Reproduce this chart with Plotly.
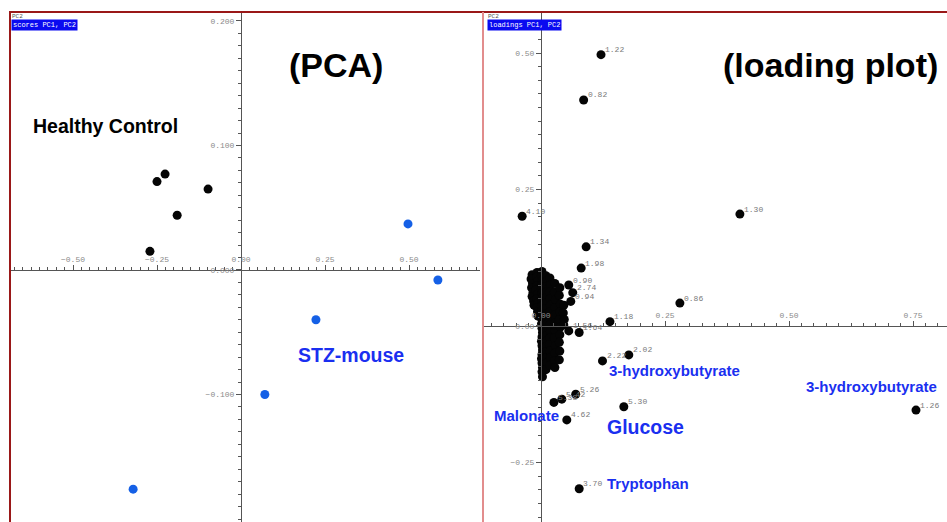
import plotly.graph_objects as go

W, H = 947, 522

# ---------------- scores (PCA) ----------------
healthy_pc1 = [-0.250, -0.226, -0.098, -0.190, -0.271]
healthy_pc2 = [0.071, 0.077, 0.065, 0.044, 0.015]
stz_pc1 = [0.497, 0.586, 0.223, 0.071, -0.321]
stz_pc2 = [0.037, -0.008, -0.040, -0.100, -0.176]

# ---------------- loadings (labelled points) ----------------
load_x = [0.121, 0.086, -0.038, 0.401, 0.091, 0.081, 0.280, 0.056, 0.064, 0.060,
          0.139, 0.056, 0.077, 0.177, 0.124, 0.070, 0.026, 0.042, 0.167, 0.052,
          0.077, 0.756]
load_y = [0.497, 0.414, 0.201, 0.205, 0.145, 0.106, 0.042, 0.075, 0.061, 0.045,
          0.008, -0.009, -0.012, -0.053, -0.064, -0.125, -0.140, -0.134, -0.148, -0.172,
          -0.298, -0.154]
load_labels = ["1.22", "0.82", "4.10", "1.30", "1.34", "1.98", "0.86", "0.90", "2.74", "0.94",
               "1.18", "1.56", "1.64", "2.02", "2.22", "5.26", "5.38", "5.42", "5.30", "4.62",
               "3.70", "1.26"]

# ---------------- loadings (dense cluster near origin) ----------------
cluster_x = [-0.018, -0.020, -0.017, -0.019, -0.016, -0.018, -0.015, -0.014,
             -0.008, -0.009, -0.007, -0.008, -0.010, -0.007, -0.008, -0.006, -0.008, -0.007, -0.006,
             0.002, 0.001, 0.003, 0.002, 0.001, 0.002, 0.003, 0.002, 0.001, 0.002, 0.003, 0.002, 0.001,
             0.002, 0.003, 0.002, 0.001, 0.002, 0.003, 0.002, 0.001, 0.002, 0.003, 0.002, 0.003,
             0.010, 0.011, 0.009, 0.010, 0.011, 0.010, 0.009, 0.010, 0.011, 0.010, 0.009, 0.010,
             0.011, 0.010, 0.009, 0.010, 0.011, 0.010,
             0.018, 0.019, 0.017, 0.018, 0.019, 0.018, 0.017, 0.018, 0.019, 0.018, 0.017, 0.018,
             0.019, 0.018,
             0.028, 0.027, 0.029, 0.028, 0.027, 0.029, 0.028, 0.027, 0.029, 0.028, 0.027, 0.028,
             0.038, 0.037, 0.039, 0.038, 0.037, 0.039, 0.038, 0.037, 0.038, 0.037,
             0.046, 0.045, 0.047, 0.046]
cluster_y = [0.094, 0.086, 0.078, 0.070, 0.062, 0.054, 0.046, 0.038,
             0.098, 0.090, 0.082, 0.074, 0.066, 0.058, 0.050, 0.042, 0.034, 0.026, 0.018,
             0.100, 0.092, 0.084, 0.076, 0.068, 0.060, 0.052, 0.044, 0.036, 0.028, 0.020, 0.012, 0.004,
             -0.004, -0.012, -0.020, -0.028, -0.036, -0.044, -0.052, -0.060, -0.068, -0.076, -0.084, -0.093,
             0.092, 0.082, 0.072, 0.062, 0.052, 0.042, 0.032, 0.022, 0.012, 0.002, -0.008, -0.018,
             -0.028, -0.038, -0.048, -0.058, -0.068, -0.080,
             0.088, 0.075, 0.062, 0.050, 0.038, 0.026, 0.014, 0.002, -0.010, -0.022, -0.034, -0.046,
             -0.058, -0.072,
             0.078, 0.062, 0.048, 0.034, 0.020, 0.006, -0.008, -0.022, -0.036, -0.050, -0.064, -0.076,
             0.070, 0.056, 0.040, 0.026, 0.012, -0.002, -0.016, -0.030, -0.046, -0.062,
             0.038, 0.024, 0.012, 0.002]

# ---------------- axes ticks ----------------
score_xticks = [-0.50, -0.25, 0.00, 0.25, 0.50]
score_yticks = [-0.100, 0.000, 0.100, 0.200]
load_xticks = [0.00, 0.25, 0.50, 0.75]
load_yticks = [-0.25, 0.00, 0.25, 0.50]

BLACK = "#050505"
BLUE_DOT = "#1560e6"
BLUE_TXT = "#1a2ff0"
AXC = "#555555"
MONO = "Liberation Mono, Courier New, monospace"
TICKFONT = dict(family=MONO, size=8, color="#8a8a8a")

fig = go.Figure()
fig.add_trace(go.Scatter(x=healthy_pc1, y=healthy_pc2, mode="markers",
                         marker=dict(color=BLACK, size=9), xaxis="x", yaxis="y",
                         showlegend=False))
fig.add_trace(go.Scatter(x=stz_pc1, y=stz_pc2, mode="markers",
                         marker=dict(color=BLUE_DOT, size=9), xaxis="x", yaxis="y",
                         showlegend=False))
fig.add_trace(go.Scatter(x=cluster_x, y=cluster_y, mode="markers",
                         marker=dict(color=BLACK, size=9), xaxis="x2", yaxis="y2",
                         showlegend=False))
fig.add_trace(go.Scatter(x=load_x, y=load_y, mode="markers",
                         marker=dict(color=BLACK, size=9), xaxis="x2", yaxis="y2",
                         showlegend=False))

# ppm labels next to each loading point
for lx, ly, lt in zip(load_x, load_y, load_labels):
    fig.add_annotation(x=lx, y=ly, xref="x2", yref="y2", text=lt, showarrow=False,
                       xanchor="left", yanchor="middle", xshift=2, yshift=5,
                       font=dict(family=MONO, size=8, color="#7a7a7a"))


def axis_common():
    return dict(showline=True, linecolor=AXC, linewidth=1, ticks="outside", ticklen=5,
                tickcolor=AXC, tickwidth=1, showgrid=False, zeroline=False,
                tickfont=TICKFONT, fixedrange=True)


ytop = 1 - 12 / H
fig.update_layout(
    width=W, height=H, margin=dict(l=0, r=0, t=0, b=0),
    paper_bgcolor="white", plot_bgcolor="white",
    xaxis=dict(**axis_common(), domain=[10 / W, 480 / W], range=[-0.6875, 0.7113],
               anchor="free", position=1 - 270 / H, side="top",
               tickmode="array", tickvals=score_xticks, tickformat=".2f",
               minor=dict(dtick=0.025, tick0=0, ticklen=3, ticks="outside", tickcolor=AXC)),
    yaxis=dict(**axis_common(), domain=[0, ytop], range=[-0.2024, 0.2072],
               anchor="free", position=241 / W, side="left",
               tickmode="array", tickvals=score_yticks, tickformat=".3f",
               minor=dict(dtick=0.01, tick0=0, ticklen=3, ticks="outside", tickcolor=AXC)),
    xaxis2=dict(**axis_common(), domain=[484 / W, 1], range=[-0.1149, 0.8185],
                anchor="free", position=1 - 326 / H, side="top",
                tickmode="array", tickvals=load_xticks, tickformat=".2f",
                minor=dict(dtick=0.025, tick0=0, ticklen=3, ticks="outside", tickcolor=AXC)),
    yaxis2=dict(**axis_common(), domain=[0, ytop], range=[-0.359, 0.5751],
                anchor="free", position=541 / W, side="left",
                tickmode="array", tickvals=load_yticks, tickformat=".2f",
                minor=dict(dtick=0.025, tick0=0, ticklen=3, ticks="outside", tickcolor=AXC)),
)

# frame lines
fig.add_shape(type="line", xref="paper", yref="paper", x0=9 / W, x1=1, y0=ytop, y1=ytop,
              line=dict(color="#9a1818", width=2))
fig.add_shape(type="line", xref="paper", yref="paper", x0=10 / W, x1=10 / W, y0=0, y1=ytop,
              line=dict(color="#9a1818", width=2))
fig.add_shape(type="line", xref="paper", yref="paper", x0=483 / W, x1=483 / W, y0=0, y1=ytop,
              line=dict(color="#e28d8d", width=2))


def ann(text, xp, yp, size, color):
    fig.add_annotation(text=f"<b>{text}</b>", x=xp / W, y=1 - yp / H, xref="paper", yref="paper",
                       xanchor="center", yanchor="middle", showarrow=False,
                       font=dict(family="Arial, Liberation Sans, sans-serif", size=size, color=color))


ann("(PCA)", 336, 65, 34, "black")
ann("(loading plot)", 830, 65, 34, "black")
ann("Healthy Control", 105, 126, 19.5, "black")
ann("STZ-mouse", 351, 355, 19.5, BLUE_TXT)
ann("3-hydroxybutyrate", 674, 370, 15, BLUE_TXT)
ann("3-hydroxybutyrate", 871, 386, 15, BLUE_TXT)
ann("Malonate", 526, 415, 15, BLUE_TXT)
ann("Glucose", 645, 427, 19.5, BLUE_TXT)
ann("Tryptophan", 648, 483, 15, BLUE_TXT)

# small panel headers
for x0, label in [(11, "scores PC1, PC2"), (487, "loadings PC1, PC2")]:
    fig.add_annotation(text="PC2", x=x0 / W, y=1 - 12.5 / H, xref="paper", yref="paper",
                       xanchor="left", yanchor="top", showarrow=False,
                       font=dict(family=MONO, size=6, color="#555555"), borderpad=0)
    fig.add_annotation(text=label, x=x0 / W, y=1 - 19.5 / H, xref="paper", yref="paper",
                       xanchor="left", yanchor="top", showarrow=False, bgcolor="#0a0af0",
                       font=dict(family=MONO, size=7, color="white"), borderpad=1)

fig.write_html("out.html", config={"displayModeBar": False},
               post_script="document.body.style.margin='0';document.body.style.padding='0';")
